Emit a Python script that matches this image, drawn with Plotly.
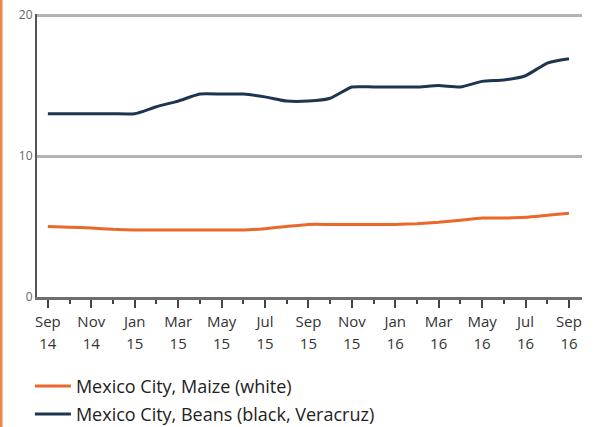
import plotly.graph_objects as go

months = ["Sep", "Oct", "Nov", "Dec", "Jan", "Feb", "Mar", "Apr", "May", "Jun", "Jul", "Aug",
          "Sep", "Oct", "Nov", "Dec", "Jan", "Feb", "Mar", "Apr", "May", "Jun", "Jul", "Aug", "Sep"]
years = ["14", "14", "14", "14", "15", "15", "15", "15", "15", "15", "15", "15",
         "15", "15", "15", "15", "16", "16", "16", "16", "16", "16", "16", "16", "16"]
maize = [5.0, 4.95, 4.9, 4.8, 4.75, 4.75, 4.75, 4.75, 4.75, 4.75, 4.85, 5.0, 5.15,
         5.15, 5.15, 5.15, 5.15, 5.2, 5.3, 5.45, 5.6, 5.6, 5.65, 5.8, 5.95]
beans = [13.0, 13.0, 13.0, 13.0, 13.0, 13.5, 13.9, 14.4, 14.4, 14.4, 14.2, 13.9, 13.9,
         14.1, 14.9, 14.9, 14.9, 14.9, 15.0, 14.9, 15.3, 15.4, 15.7, 16.6, 16.9]

x = list(range(len(months)))
tick_idx = x[::2]
tickfont = dict(family="Open Sans", size=15, color="#333")

fig = go.Figure()
fig.add_trace(go.Scatter(x=x, y=maize, mode="lines", name="Mexico City, Maize (white)",
                         legend="legend",
                         line=dict(color="#E8692A", width=3, shape="spline", smoothing=0.5)))
fig.add_trace(go.Scatter(x=x, y=beans, mode="lines", name="Mexico City, Beans (black, Veracruz)",
                         legend="legend2",
                         line=dict(color="#1E3550", width=3, shape="spline", smoothing=0.5)))
# invisible helper so the year row (second axis) is drawn
fig.add_trace(go.Scatter(x=x, y=maize, xaxis="x2", mode="lines", opacity=0,
                         showlegend=False, hoverinfo="skip", line=dict(width=0)))

fig.update_layout(
    xaxis=dict(range=[-0.5, 24.6], tickvals=tick_idx, ticktext=[months[i] for i in tick_idx],
               automargin=False, showgrid=False, zeroline=False, showline=True,
               linecolor="#6e6e6e", linewidth=3, ticks="outside", ticklen=8, tickwidth=2,
               tickcolor="#444", ticklabelstandoff=1,
               minor=dict(tickvals=x[1::2], ticks="outside", ticklen=4, tickwidth=2,
                          tickcolor="#444"),
               tickfont=tickfont),
    xaxis2=dict(range=[-0.5, 24.6], tickvals=tick_idx, ticktext=[years[i] for i in tick_idx],
                overlaying="x", side="bottom", anchor="y", automargin=False, showgrid=False,
                zeroline=False, showline=False, ticks="", ticklabelstandoff=36,
                tickfont=tickfont),
    yaxis=dict(range=[0, 20.08], tickvals=[0, 10, 20], showgrid=True, gridcolor="#b3b3b3",
               gridwidth=3, zeroline=False, showline=True, linecolor="#555", linewidth=2,
               ticks="", automargin=False,
               tickfont=dict(family="Open Sans", size=12, color="#666")),
)

fig.add_shape(type="line", xref="paper", yref="paper", x0=-0.066, x1=-0.066, y0=-1.2, y1=1.2,
              line=dict(color="#F0874A", width=3))

legfont = dict(family="Open Sans", size=18, color="#222")
fig.update_layout(width=598, height=427, plot_bgcolor="white", paper_bgcolor="white",
                  margin=dict(l=37, r=16, t=14, b=130, autoexpand=False), showlegend=True,
                  legend=dict(x=-0.013, y=-0.25, xanchor="left", yanchor="top", font=legfont,
                              itemwidth=36, bgcolor="rgba(0,0,0,0)"),
                  legend2=dict(x=-0.013, y=-0.349, xanchor="left", yanchor="top", font=legfont,
                               itemwidth=36, bgcolor="rgba(0,0,0,0)"))
fig.write_html("out.html", config={"displayModeBar": False},
               post_script="document.body.style.margin='0';")
